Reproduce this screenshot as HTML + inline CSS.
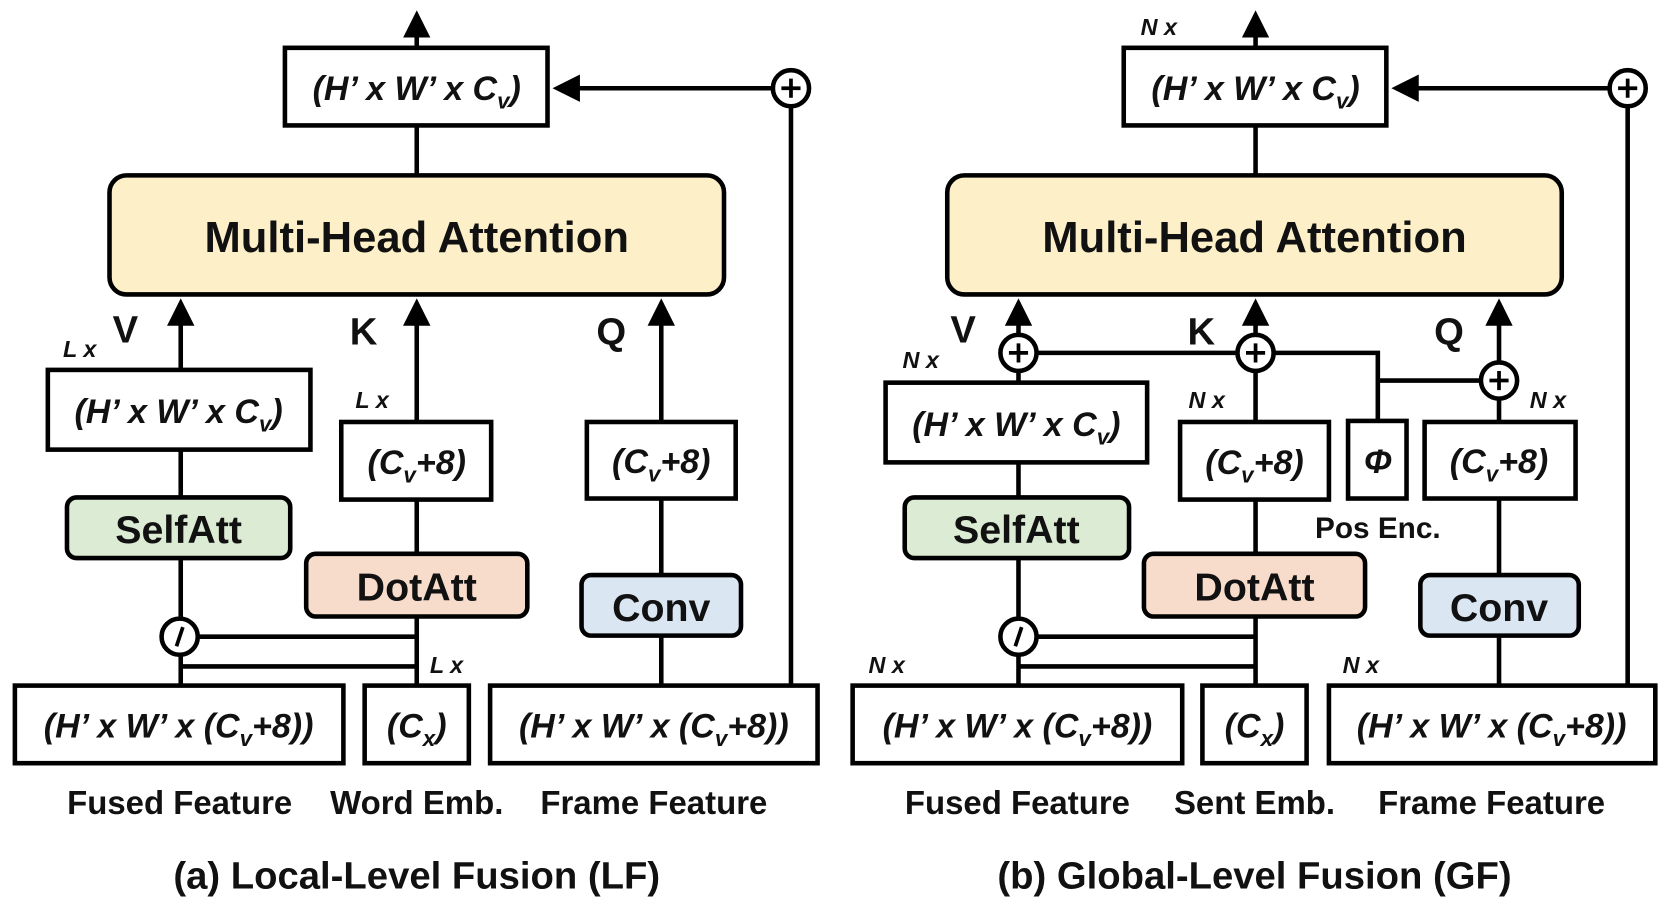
<!DOCTYPE html>
<html><head><meta charset="utf-8"><style>
html,body{margin:0;padding:0;background:#fff;}
svg{display:block;}
text{font-family:"Liberation Sans",sans-serif;font-weight:bold;fill:#111;}
.m{font-style:italic;font-size:32px;}
.s{font-size:21px;}
.lx{font-style:italic;font-size:22px;}
.lab{font-size:31px;}
.cap{font-size:36px;}
.big{font-size:41px;}
.mid{font-size:37px;}
.qkv{font-size:36px;}
</style></head><body>
<svg width="1667" height="912" viewBox="0 0 1568 858" preserveAspectRatio="none" xmlns="http://www.w3.org/2000/svg">
<defs>
<marker id="ah" markerWidth="6" markerHeight="6" refX="5" refY="3" orient="auto" markerUnits="strokeWidth"><path d="M0,0 L6,3 L0,6 z" fill="#000"/></marker>
</defs>
<g stroke="#000" stroke-width="4.3" fill="none">
<line x1="392" y1="45" x2="392" y2="14" marker-end="url(#ah)"/>
<rect x="268" y="45" width="247" height="73" fill="#fff"/>
<line x1="392" y1="118" x2="392" y2="165"/>
<rect x="103" y="165" width="578" height="112" rx="16" fill="#fdf0c8"/>
<line x1="744" y1="645" x2="744" y2="100"/>
<circle cx="744" cy="83" r="17" fill="#fff"/>
<line x1="727" y1="83" x2="524" y2="83" marker-end="url(#ah)"/>
<line x1="170" y1="348" x2="170" y2="285" marker-end="url(#ah)"/>
<rect x="45" y="348" width="247" height="75" fill="#fff"/>
<line x1="170" y1="423" x2="170" y2="468"/>
<rect x="63" y="468" width="210" height="57" rx="9" fill="#dcebd3"/>
<line x1="170" y1="525" x2="170" y2="582"/>
<circle cx="169" cy="599" r="17" fill="#fff"/>
<line x1="186" y1="599" x2="392" y2="599"/>
<line x1="170" y1="616" x2="170" y2="645"/>
<line x1="170" y1="627" x2="392" y2="627"/>
<line x1="392" y1="397" x2="392" y2="285" marker-end="url(#ah)"/>
<rect x="321" y="397" width="141" height="73" fill="#fff"/>
<line x1="392" y1="470" x2="392" y2="521"/>
<rect x="288" y="521" width="208" height="59" rx="9" fill="#f8dccb"/>
<line x1="392" y1="580" x2="392" y2="645"/>
<line x1="622" y1="397" x2="622" y2="285" marker-end="url(#ah)"/>
<rect x="552" y="397" width="140" height="72" fill="#fff"/>
<line x1="622" y1="469" x2="622" y2="541"/>
<rect x="547" y="541" width="150" height="57" rx="9" fill="#dbe6f3"/>
<line x1="622" y1="598" x2="622" y2="645"/>
<rect x="14" y="645" width="309" height="73" fill="#fff"/>
<rect x="343" y="645" width="98" height="73" fill="#fff"/>
<rect x="461" y="645" width="308" height="73" fill="#fff"/>

<line x1="1181" y1="45" x2="1181" y2="14" marker-end="url(#ah)"/>
<rect x="1057" y="45" width="247" height="73" fill="#fff"/>
<line x1="1181" y1="118" x2="1181" y2="165"/>
<rect x="891" y="165" width="578" height="112" rx="16" fill="#fdf0c8"/>
<line x1="1531" y1="645" x2="1531" y2="100"/>
<circle cx="1531" cy="83" r="17" fill="#fff"/>
<line x1="1514" y1="83" x2="1313" y2="83" marker-end="url(#ah)"/>
<polyline points="958,332 1296,332 1296,396"/>
<line x1="1296" y1="358" x2="1410" y2="358"/>
<line x1="958" y1="315" x2="958" y2="285" marker-end="url(#ah)"/>
<circle cx="958" cy="332" r="17" fill="#fff"/>
<line x1="958" y1="349" x2="958" y2="360"/>
<rect x="833" y="360" width="246" height="75" fill="#fff"/>
<line x1="958" y1="435" x2="958" y2="468"/>
<rect x="851" y="468" width="211" height="57" rx="9" fill="#dcebd3"/>
<line x1="958" y1="525" x2="958" y2="582"/>
<circle cx="958" cy="599" r="17" fill="#fff"/>
<line x1="975" y1="599" x2="1181" y2="599"/>
<line x1="958" y1="616" x2="958" y2="645"/>
<line x1="958" y1="627" x2="1181" y2="627"/>
<line x1="1181" y1="315" x2="1181" y2="285" marker-end="url(#ah)"/>
<circle cx="1181" cy="332" r="17" fill="#fff"/>
<line x1="1181" y1="349" x2="1181" y2="397"/>
<rect x="1110" y="397" width="140" height="73" fill="#fff"/>
<line x1="1181" y1="470" x2="1181" y2="521"/>
<rect x="1076" y="521" width="208" height="59" rx="9" fill="#f8dccb"/>
<line x1="1181" y1="580" x2="1181" y2="645"/>
<rect x="1268" y="396" width="55" height="73" fill="#fff"/>
<line x1="1410" y1="341" x2="1410" y2="285" marker-end="url(#ah)"/>
<circle cx="1410" cy="358" r="17" fill="#fff"/>
<line x1="1410" y1="375" x2="1410" y2="397"/>
<rect x="1340" y="397" width="142" height="72" fill="#fff"/>
<line x1="1410" y1="469" x2="1410" y2="541"/>
<rect x="1336" y="541" width="149" height="57" rx="9" fill="#dbe6f3"/>
<line x1="1410" y1="598" x2="1410" y2="645"/>
<rect x="802" y="645" width="310" height="73" fill="#fff"/>
<rect x="1131" y="645" width="98" height="73" fill="#fff"/>
<rect x="1250" y="645" width="307" height="73" fill="#fff"/>
</g>
<g stroke="#000" stroke-width="3.5">
<path d="M744,74 V92 M735,83 H753"/>
<path d="M1531,74 V92 M1522,83 H1540"/>
<path d="M958,323 V341 M949,332 H967"/>
<path d="M1181,323 V341 M1172,332 H1190"/>
<path d="M1410,349 V367 M1401,358 H1419"/>
<path d="M172,590 L166,608"/>
<path d="M961,590 L955,608"/>
</g>
<g text-anchor="middle">
<text x="392" y="94" class="m">(H’ x W’ x C<tspan class="s" dy="8">v</tspan><tspan dy="-8">)</tspan></text>
<text x="392" y="237" class="big">Multi-Head Attention</text>
<text x="168" y="398" class="m">(H’ x W’ x C<tspan class="s" dy="8">v</tspan><tspan dy="-8">)</tspan></text>
<text x="168" y="511" class="mid">SelfAtt</text>
<text x="392" y="446" class="m">(C<tspan class="s" dy="8">v</tspan><tspan dy="-8">+8)</tspan></text>
<text x="392" y="565" class="mid">DotAtt</text>
<text x="622" y="445" class="m">(C<tspan class="s" dy="8">v</tspan><tspan dy="-8">+8)</tspan></text>
<text x="622" y="584" class="mid">Conv</text>
<text x="168" y="694" class="m">(H’ x W’ x (C<tspan class="s" dy="8">v</tspan><tspan dy="-8">+8))</tspan></text>
<text x="392" y="694" class="m">(C<tspan class="s" dy="8">x</tspan><tspan dy="-8">)</tspan></text>
<text x="615" y="694" class="m">(H’ x W’ x (C<tspan class="s" dy="8">v</tspan><tspan dy="-8">+8))</tspan></text>
<text x="169" y="766" class="lab">Fused Feature</text>
<text x="392" y="766" class="lab">Word Emb.</text>
<text x="615" y="766" class="lab">Frame Feature</text>
<text x="392" y="836" class="cap">(a) Local-Level Fusion (LF)</text>

<text x="1181" y="94" class="m">(H’ x W’ x C<tspan class="s" dy="8">v</tspan><tspan dy="-8">)</tspan></text>
<text x="1180" y="237" class="big">Multi-Head Attention</text>
<text x="956" y="410" class="m">(H’ x W’ x C<tspan class="s" dy="8">v</tspan><tspan dy="-8">)</tspan></text>
<text x="956" y="511" class="mid">SelfAtt</text>
<text x="1180" y="446" class="m">(C<tspan class="s" dy="8">v</tspan><tspan dy="-8">+8)</tspan></text>
<text x="1180" y="565" class="mid">DotAtt</text>
<text x="1296" y="445" class="m">Φ</text>
<text x="1296" y="506" class="lab" style="font-size:28px">Pos Enc.</text>
<text x="1410" y="445" class="m">(C<tspan class="s" dy="8">v</tspan><tspan dy="-8">+8)</tspan></text>
<text x="1410" y="584" class="mid">Conv</text>
<text x="957" y="694" class="m">(H’ x W’ x (C<tspan class="s" dy="8">v</tspan><tspan dy="-8">+8))</tspan></text>
<text x="1180" y="694" class="m">(C<tspan class="s" dy="8">x</tspan><tspan dy="-8">)</tspan></text>
<text x="1403" y="694" class="m">(H’ x W’ x (C<tspan class="s" dy="8">v</tspan><tspan dy="-8">+8))</tspan></text>
<text x="957" y="766" class="lab">Fused Feature</text>
<text x="1180" y="766" class="lab">Sent Emb.</text>
<text x="1403" y="766" class="lab">Frame Feature</text>
<text x="1180" y="836" class="cap">(b) Global-Level Fusion (GF)</text>

<text x="118" y="322" class="qkv">V</text>
<text x="342" y="324" class="qkv">K</text>
<text x="575" y="324" class="qkv">Q</text>
<text x="906" y="322" class="qkv">V</text>
<text x="1130" y="324" class="qkv">K</text>
<text x="1363" y="324" class="qkv">Q</text>
<text x="75" y="336" class="lx">L x</text>
<text x="350" y="384" class="lx">L x</text>
<text x="420" y="633" class="lx">L x</text>
<text x="1090" y="33" class="lx">N x</text>
<text x="866" y="346" class="lx">N x</text>
<text x="1135" y="384" class="lx">N x</text>
<text x="1456" y="384" class="lx">N x</text>
<text x="834" y="633" class="lx">N x</text>
<text x="1280" y="633" class="lx">N x</text>
</g>
</svg>
</body></html>
